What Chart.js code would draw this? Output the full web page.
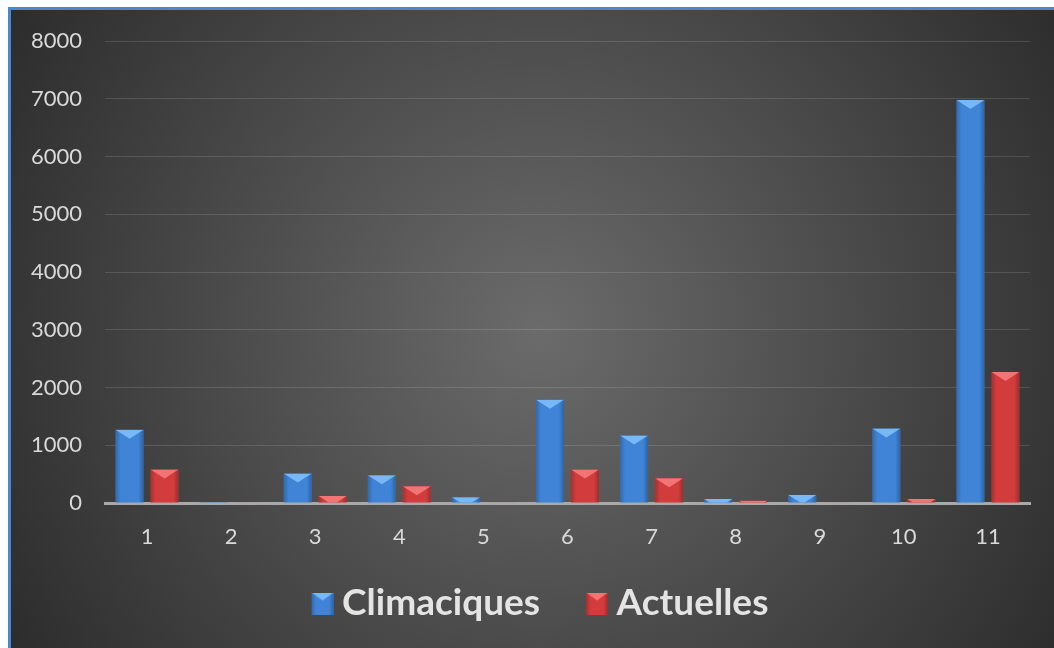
<!DOCTYPE html>
<html>
<head>
<meta charset="utf-8">
<script src="https://cdn.jsdelivr.net/npm/chart.js@4/dist/chart.umd.min.js"></script>
<style>
  html, body { margin: 0; padding: 0; background: #ffffff; }
  #wrap { width: 1054px; height: 648px; }
  canvas { display: block; }
</style>
</head>
<body>
<div id="wrap"><canvas id="c" width="1054" height="648"></canvas></div>
<script>
// Categories along the x axis
const categories = ['1', '2', '3', '4', '5', '6', '7', '8', '9', '10', '11'];
// Series values
const climaciques = [1270, 15, 510, 480, 100, 1790, 1170, 70, 140, 1290, 6980];
const actuelles   = [580, 10, 120, 290, 10, 580, 430, 40, 10, 70, 2270];
// Value axis
const yMin = 0, yMax = 8000, yStep = 1000;

const BLUE = '#3f84d6', BLUE_LIGHT = '#79b8f6';
const RED = '#d23c3c', RED_LIGHT = '#f27575';
const TEXT = '#d9d9d9';
const FONT = 'Lato, "Open Sans", sans-serif';

// Bevelled swatch used as legend marker (drawn at the right end of a wider transparent tile)
function makeSwatch(base, light) {
  const s = 22, w = 52;
  const cv = document.createElement('canvas');
  cv.width = w; cv.height = s;
  const c = cv.getContext('2d');
  c.translate(w - s, 0);
  c.fillStyle = base; c.fillRect(0, 0, s, s);
  const g = c.createLinearGradient(0, 0, s, 0);
  g.addColorStop(0, 'rgba(0,0,0,0.2)'); g.addColorStop(0.2, 'rgba(0,0,0,0)');
  g.addColorStop(0.8, 'rgba(0,0,0,0)'); g.addColorStop(1, 'rgba(0,0,0,0.25)');
  c.fillStyle = g; c.fillRect(0, 0, s, s);
  c.fillStyle = light;
  c.beginPath(); c.moveTo(0, 0); c.lineTo(s, 0); c.lineTo(s / 2, 8); c.closePath(); c.fill();
  return cv;
}
const swatches = [makeSwatch(BLUE, BLUE_LIGHT), makeSwatch(RED, RED_LIGHT)];
const lights = [BLUE_LIGHT, RED_LIGHT];

// Dark radial backdrop with the blue frame edge
const backdrop = {
  id: 'backdrop',
  beforeDraw(chart) {
    const { ctx, width: W, height: H } = chart;
    ctx.save();
    ctx.fillStyle = '#ffffff';
    ctx.fillRect(0, 0, W, H);
    const g = ctx.createRadialGradient(540, 330, 0, 540, 330, 640);
    g.addColorStop(0, '#6b6b6b');
    g.addColorStop(1, '#2a2a2a');
    ctx.fillStyle = g;
    ctx.fillRect(10, 10, W - 10, H - 10);
    ctx.fillStyle = '#4a88cc';
    ctx.fillRect(8, 7, W - 8, 3);
    ctx.fillRect(8, 7, 3, H - 7);
    ctx.restore();
  }
};

// Side shading and light top bevel on each bar
const bevel = {
  id: 'bevel',
  afterDatasetsDraw(chart) {
    const ctx = chart.ctx;
    chart.data.datasets.forEach((ds, di) => {
      const meta = chart.getDatasetMeta(di);
      meta.data.forEach(bar => {
        const { x, y, base, width } = bar.getProps(['x', 'y', 'base', 'width'], true);
        const h = base - y;
        if (h <= 0.5) return;
        const l = x - width / 2, r = x + width / 2;
        ctx.save();
        ctx.beginPath(); ctx.rect(l, y, width, h); ctx.clip();
        const g = ctx.createLinearGradient(l, 0, r, 0);
        g.addColorStop(0, 'rgba(0,0,0,0.2)'); g.addColorStop(0.18, 'rgba(0,0,0,0)');
        g.addColorStop(0.82, 'rgba(0,0,0,0)'); g.addColorStop(1, 'rgba(0,0,0,0.25)');
        ctx.fillStyle = g; ctx.fillRect(l, y, width, h);
        ctx.fillStyle = lights[di];
        ctx.beginPath(); ctx.moveTo(l, y); ctx.lineTo(r, y); ctx.lineTo(x, y + 9); ctx.closePath(); ctx.fill();
        ctx.restore();
      });
    });
  }
};

new Chart(document.getElementById('c'), {
  type: 'bar',
  data: {
    labels: categories,
    datasets: [
      { label: 'Climaciques', data: climaciques, backgroundColor: BLUE, categoryPercentage: 0.832, barPercentage: 0.8 },
      { label: 'Actuelles', data: actuelles, backgroundColor: RED, categoryPercentage: 0.832, barPercentage: 0.8 }
    ]
  },
  options: {
    responsive: false,
    animation: false,
    layout: { padding: { left: 30, right: 24, top: 41, bottom: 16 } },
    plugins: {
      tooltip: { enabled: false },
      legend: {
        position: 'bottom',
        labels: {
          color: '#e4e4e4',
          font: { family: FONT, size: 37, weight: 'bold' },
          usePointStyle: true,
          boxWidth: 32,
          padding: 26,
          generateLabels(chart) {
            const items = Chart.defaults.plugins.legend.labels.generateLabels(chart);
            items.forEach((it, i) => { it.pointStyle = swatches[i]; it.fontColor = '#e4e4e4'; });
            return items;
          }
        }
      }
    },
    scales: {
      x: {
        grid: { display: false },
        border: { display: true, color: '#a9a9a9', width: 3 },
        ticks: { color: TEXT, font: { family: FONT, size: 22 }, padding: 13 },
        afterFit(scale) { scale.height = 56; }
      },
      y: {
        min: yMin, max: yMax,
        ticks: {
          stepSize: yStep, color: TEXT, font: { family: FONT, size: 22 }, padding: 23,
          callback: (v) => String(v)
        },
        grid: { color: 'rgba(255,255,255,0.13)', lineWidth: 1, drawTicks: false },
        border: { display: false },
        afterFit(scale) { scale.width = 75; }
      }
    }
  },
  plugins: [backdrop, bevel]
});
</script>
</body>
</html>
